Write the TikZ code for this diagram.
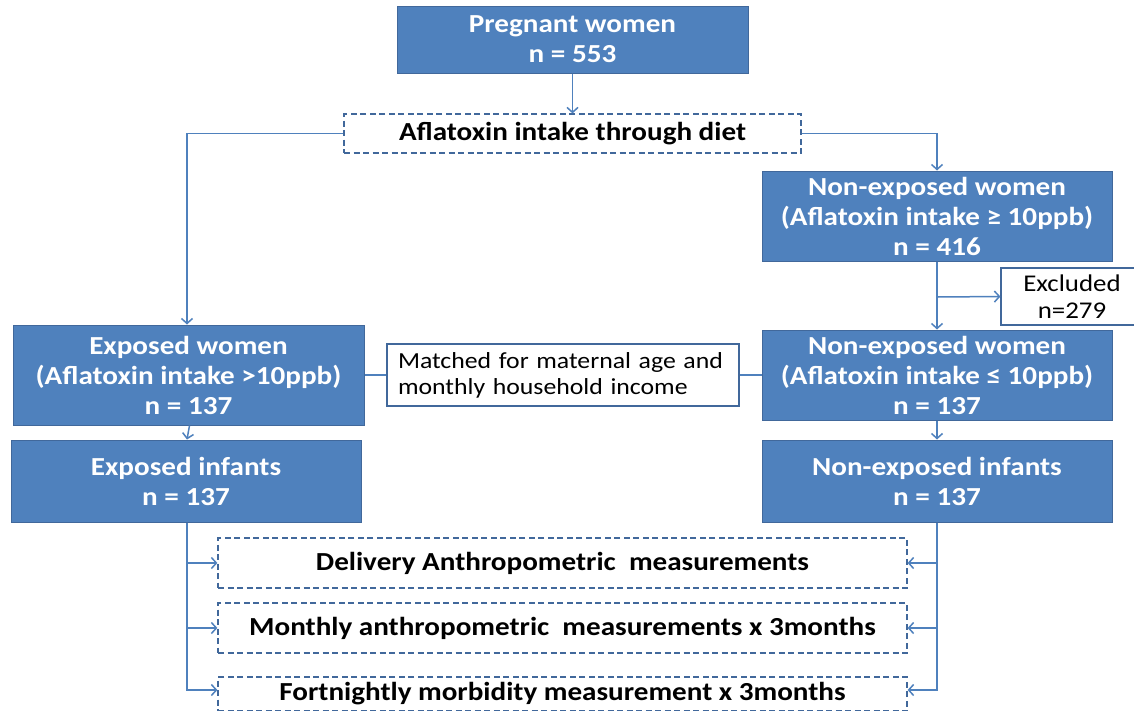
\documentclass[tikz,border=0pt]{standalone}
\usepackage{fontspec}
\setmainfont{Carlito}[FakeStretch=1.12]
\usetikzlibrary{arrows.meta}
\definecolor{bfill}{HTML}{4F81BD}
\definecolor{bdraw}{HTML}{41689B}
\definecolor{lne}{HTML}{4F81BD}
\tikzset{
  bluebox/.style={draw=bdraw, fill=bfill, line width=1pt, text=white,
    font=\bfseries\fontsize{26}{30}\selectfont, align=center,
    inner sep=0pt, anchor=center},
  dashbox/.style={draw=bdraw, dash pattern=on 6pt off 3.5pt, line width=1.2pt,
    font=\bfseries\fontsize{26}{30}\selectfont, align=center, inner sep=0pt, anchor=center},
  whitebox/.style={draw=bdraw, fill=white, line width=1.2pt,
    font=\fontsize{23}{26}\selectfont, inner sep=0pt, anchor=center},
  conn/.style={draw=lne, line width=1.5pt, -{Straight Barb[length=5pt,width=11pt]}},
  plain/.style={draw=lne, line width=1.5pt},
}
\begin{document}
\begin{tikzpicture}[x=1pt,y=-1pt]
\clip (0,0) rectangle (1134,710);
\fill[white] (0,0) rectangle (1134,710);

\node[bluebox, minimum width=351pt, minimum height=67pt] (preg) at (572.5,39.5) {Pregnant women\\n = 553};
\node[dashbox, minimum width=457pt, minimum height=39pt] (afl) at (572.5,133.5) {Aflatoxin intake through diet};
\node[bluebox, minimum width=350pt, minimum height=90pt] (ne1) at (937,216) {Non-exposed women\\(Aflatoxin intake ≥ 10ppb)\\n = 416};
\node[whitebox, minimum width=142pt, minimum height=57pt, align=center, font=\fontsize{24}{27}\selectfont] (excl) at (1072,296.5) {Excluded\\n=279};
\node[bluebox, minimum width=350pt, minimum height=90pt] (ne2) at (937,375) {Non-exposed women\\(Aflatoxin intake ≤ 10ppb)\\n = 137};
\node[bluebox, minimum width=351pt, minimum height=100pt] (exw) at (188.5,375) {Exposed women\\(Aflatoxin intake >10ppb)\\n = 137};
\node[whitebox, minimum width=352pt, minimum height=62pt, text width=330pt, align=left] (match) at (563,375) {Matched for maternal age and\\monthly household income};
\node[bluebox, minimum width=350pt, minimum height=82pt] (exi) at (186,481) {Exposed infants\\n = 137};
\node[bluebox, minimum width=350pt, minimum height=82pt] (nei) at (937,481) {Non-exposed infants\\n = 137};
\node[dashbox, minimum width=689pt, minimum height=50pt] (d1) at (562.5,563) {Delivery Anthropometric\ \ measurements};
\node[dashbox, minimum width=689pt, minimum height=50pt] (d2) at (562.5,628) {Monthly anthropometric\ \ measurements x 3months};
\node[dashbox, minimum width=689pt, minimum height=34pt] (d3) at (562.5,694) {Fortnightly morbidity measurement x 3months};

\draw[conn] (preg.south) -- (afl.north);
\draw[conn] (afl.west) -| ([xshift=-1.5pt]exw.north);
\draw[conn] (afl.east) -| (ne1.north);
\draw[conn] (ne1.south) -- (ne2.north);
\coordinate (br) at (937,297);
\draw[conn] (br) -- (excl.west);
\draw[plain] (exw.east) -- (match.west);
\draw[plain] (match.east) -- (ne2.west);
\draw[conn] ([xshift=1pt]exw.south) -- ([xshift=1pt]exi.north);
\draw[conn] (ne2.south) -- (nei.north);
\draw[conn] ([xshift=1pt]exi.south) |- (d1.west);
\draw[conn] ([xshift=1pt]exi.south) |- (d2.west);
\draw[conn] ([xshift=1pt]exi.south) |- ([yshift=4pt]d3.west);
\draw[conn] (nei.south) |- (d1.east);
\draw[conn] (nei.south) |- (d2.east);
\draw[conn] (nei.south) |- ([yshift=4pt]d3.east);
\end{tikzpicture}
\end{document}
